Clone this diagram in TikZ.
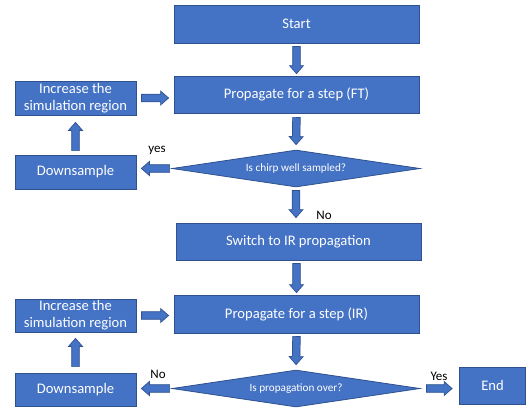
\documentclass[tikz,border=0pt]{standalone}
\usepackage{fontspec}
\setmainfont{Carlito}
\usetikzlibrary{shapes.geometric,calc}
\definecolor{blu}{HTML}{4472C4}
\definecolor{bord}{HTML}{2F528F}
\tikzset{
  box/.style={draw=bord, fill=blu, line width=0.8pt, text=white, font=\fontsize{14.6}{17}\selectfont, align=center, inner sep=0pt, rectangle},
  dec/.style={draw=bord, fill=blu, line width=0.8pt, text=white, font=\fontsize{11.2}{13}\selectfont, diamond, aspect=6.7, inner sep=0pt},
  lab/.style={text=black, font=\fontsize{13}{15}\selectfont, inner sep=0pt},
  barrowstyle/.style={draw=bord, fill=blu, line width=0.7pt, line join=miter}
}
% block arrow from point #1 to point #2 with gaps #3 and #4 (pt)
\newcommand\blockarr[4]{%
  \path[barrowstyle] let \p1=(#1), \p2=(#2), \n1={atan2(\y2-\y1,\x2-\x1)}, \n2={veclen(\x2-\x1,\y2-\y1)} in
  {[shift={(\p1)}, rotate=\n1]
   (#3pt,-3.8pt) -- (\n2-#4pt-8pt,-3.8pt) -- (\n2-#4pt-8pt,-7pt) -- (\n2-#4pt,0pt) -- (\n2-#4pt-8pt,7pt) -- (\n2-#4pt-8pt,3.8pt) -- (#3pt,3.8pt) -- cycle};}
\begin{document}
\begin{tikzpicture}[x=1pt,y=-1pt]
\useasboundingbox (0,0) rectangle (526,408);
\node[box, minimum width=245pt, minimum height=38pt] (start) at (296.5,24) {Start};
\node[box, minimum width=245pt, minimum height=37pt] (ft) at (296.5,94.5) {Propagate for a step (FT)};
\node[box, minimum width=121pt, minimum height=34pt] (inc1) at (75.5,98) {Increase the\\simulation region};
\node[box, minimum width=121pt, minimum height=34pt] (down1) at (75.5,172) {Downsample};
\node[dec, minimum width=248pt, minimum height=37pt] (dia1) at (296,168.5) {Is chirp well sampled?};
\node[box, minimum width=245pt, minimum height=37pt] (switch) at (298.5,241.5) {Switch to IR propagation};
\node[box, minimum width=245pt, minimum height=38pt] (ir) at (296.5,314) {Propagate for a step (IR)};
\node[box, minimum width=121pt, minimum height=33pt] (inc2) at (75.5,315.5) {Increase the\\simulation region};
\node[box, minimum width=121pt, minimum height=33pt] (down2) at (75.5,389.5) {Downsample};
\node[dec, minimum width=248pt, minimum height=37pt] (dia2) at (296,388.5) {Is propagation over?};
\node[box, minimum width=66pt, minimum height=37pt] (end) at (492.5,385.5) {End};

\blockarr{start.south}{ft.north}{3}{2}
\blockarr{ft.south}{dia1.north}{4}{5}
\blockarr{dia1.south}{switch.north -| dia1.south}{3}{5}
\blockarr{switch.south -| ir.north}{ir.north}{3}{2}
\blockarr{ir.south}{dia2.north}{3}{5}
\blockarr{inc1.east}{inc1.east -| ft.west}{5}{5}
\blockarr{inc2.east}{inc2.east -| ir.west}{5}{5}
\blockarr{dia1.west}{dia1.west -| down1.east}{2}{5}
\blockarr{dia2.west}{dia2.west -| down2.east}{2}{5}
\blockarr{down1.north}{inc1.south}{4}{7}
\blockarr{down2.north}{inc2.south}{6}{6}
\blockarr{dia2.east}{dia2.east -| end.west}{6}{7}

\node[lab] (yes1) at (157,150) {yes};
\node[lab] (no1) at (324,215) {No};
\node[lab] (no2) at (158,374) {No};
\node[lab] (yes2) at (439,376) {Yes};
\end{tikzpicture}
\end{document}
